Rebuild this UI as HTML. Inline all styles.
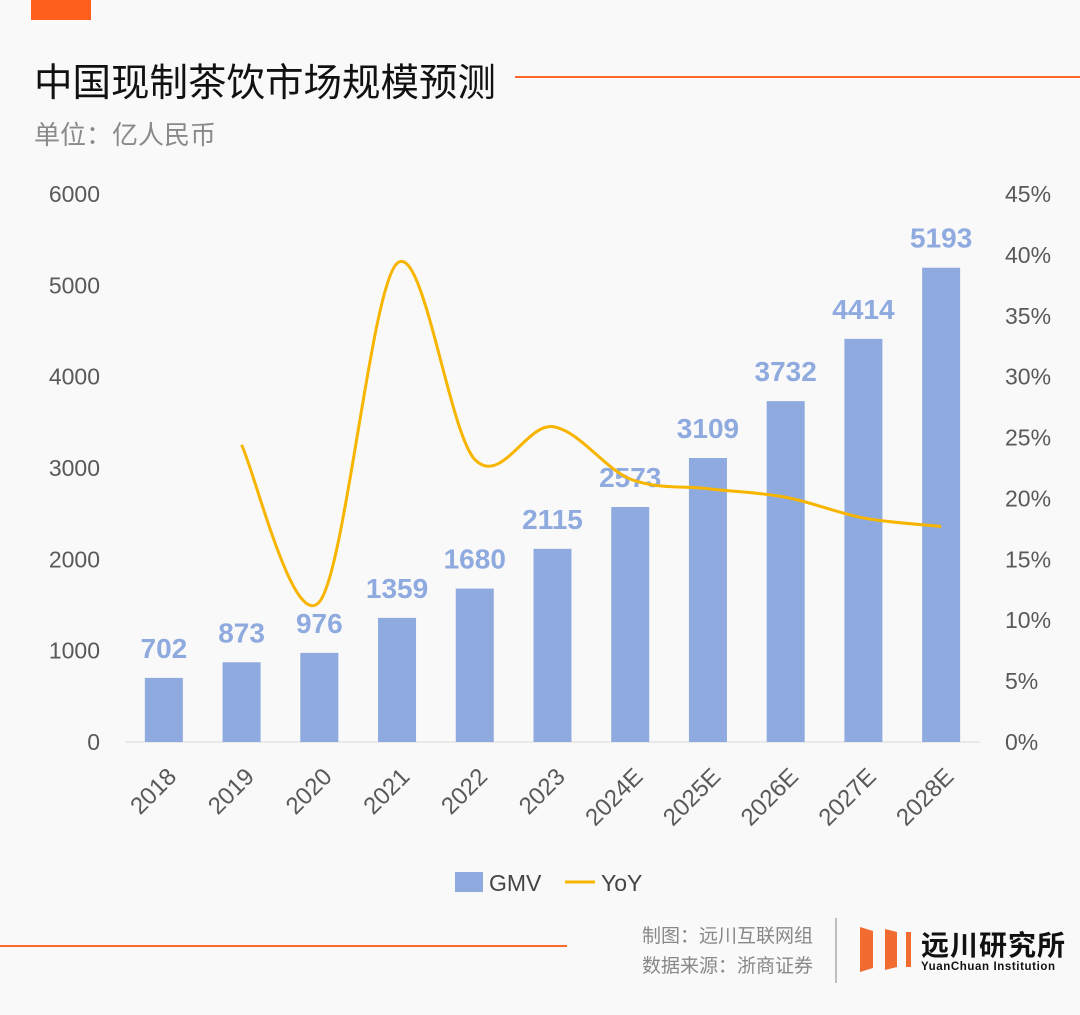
<!DOCTYPE html>
<html><head><meta charset="utf-8"><style>
body{margin:0;background:#f9f9f9;width:1080px;height:1010px;overflow:hidden;font-family:"Liberation Sans","Noto Sans CJK SC",sans-serif;}
svg text{font-family:"Liberation Sans","Noto Sans CJK SC",sans-serif;}
</style></head><body>
<svg id="c" width="1080" height="1010" xmlns="http://www.w3.org/2000/svg">
<rect x="0" y="0" width="1080" height="1010" fill="#f9f9f9"/>
<rect x="31" y="0" width="60" height="20" fill="#ff5f1c"/>
<text x="34" y="96" font-size="38.5" fill="#111">中国现制茶饮市场规模预测</text>
<line x1="515" y1="77" x2="1080" y2="77" stroke="#ff6a2a" stroke-width="2"/>
<text x="34" y="144" font-size="26" fill="#8a8a8a">单位：亿人民币</text>
<g id="plot"></g>
<rect x="455" y="872" width="28" height="20" fill="#8eaadf"/>
<text x="489" y="891" font-size="23" fill="#444">GMV</text>
<line x1="565" y1="882" x2="595" y2="882" stroke="#f7b500" stroke-width="3"/>
<text x="601" y="891" font-size="23" fill="#444">YoY</text>
<line x1="0" y1="946" x2="567" y2="946" stroke="#ff6a2a" stroke-width="2"/>
<text x="642" y="942" font-size="19" fill="#888">制图：远川互联网组</text>
<text x="642" y="972" font-size="19" fill="#888">数据来源：浙商证券</text>
<line x1="836" y1="918" x2="836" y2="983" stroke="#aaa" stroke-width="1.5"/>
<g>
<polygon points="860,927 873,931 873,968 860,972" fill="#f26b30"/>
<polygon points="885,929 897,932 897,967 885,970" fill="#f26b30"/>
<rect x="906" y="932" width="5" height="35" fill="#f26b30"/>
</g>
<text x="921" y="955" font-size="28" fill="#111" font-weight="bold" letter-spacing="1">远川研究所</text>
<text x="921" y="970" font-size="11.5" fill="#111" font-weight="bold" letter-spacing="0.6">YuanChuan Institution</text>
</svg>
<script>
const categories=["2018","2019","2020","2021","2022","2023","2024E","2025E","2026E","2027E","2028E"];
const gmv=[702,873,976,1359,1680,2115,2573,3109,3732,4414,5193];
const yoy=[null,24.4,11.5,39.3,23.2,25.9,21.6,20.8,20.1,18.4,17.7];
const leftTicks=[0,1000,2000,3000,4000,5000,6000];
const rightTicks=[0,5,10,15,20,25,30,35,40,45];
const NS="http://www.w3.org/2000/svg";
const g=document.getElementById('plot');
const x0=125,x1=980,yTop=194,yBot=742;
const band=(x1-x0)/categories.length;
const xc=i=>x0+band*(i+0.5);
const yL=v=>yBot-(v/6000)*(yBot-yTop);
const yR=v=>yBot-(v/45)*(yBot-yTop);
function el(t,a,txt){const e=document.createElementNS(NS,t);for(const k in a)e.setAttribute(k,a[k]);if(txt!=null)e.textContent=txt;g.appendChild(e);return e;}
const base=el('line',{x1:x0,y1:yBot,x2:x1,y2:yBot,stroke:'#d9d9d9','stroke-width':1});


leftTicks.forEach(v=>{const t=el('text',{x:100,y:yL(v)+8,'font-size':23,fill:'#595959','text-anchor':'end'},v);

});
rightTicks.forEach(v=>{const t=el('text',{x:1005,y:yR(v)+8,'font-size':23,fill:'#595959'},v+'%');

});
gmv.forEach((v,i)=>{const w=38;const b=el('rect',{x:xc(i)-w/2,y:yL(v),width:w,height:yBot-yL(v),fill:'#8eaadf'});


const l=el('text',{x:xc(i),y:yL(v)-20,'font-size':28,'font-weight':'bold',fill:'#8eaadf','text-anchor':'middle'},v);


const c=el('text',{x:0,y:0,'font-size':24,fill:'#595959','text-anchor':'end',transform:`translate(${xc(i)+14},${yBot+36}) rotate(-45)`},categories[i]);

});
const pts=[];yoy.forEach((v,i)=>{if(v!=null)pts.push([xc(i),yR(v)]);});
let d='M'+pts[0][0]+','+pts[0][1];
for(let i=0;i<pts.length-1;i++){const p0=pts[i-1]||pts[i],p1=pts[i],p2=pts[i+1],p3=pts[i+2]||p2;const k=1/6;
d+=` C${p1[0]+(p2[0]-p0[0])*k},${p1[1]+(p2[1]-p0[1])*k} ${p2[0]-(p3[0]-p1[0])*k},${p2[1]-(p3[1]-p1[1])*k} ${p2[0]},${p2[1]}`;}
const ln=el('path',{d:d,fill:'none',stroke:'#f7b500','stroke-width':3});


</script>
</body></html>
